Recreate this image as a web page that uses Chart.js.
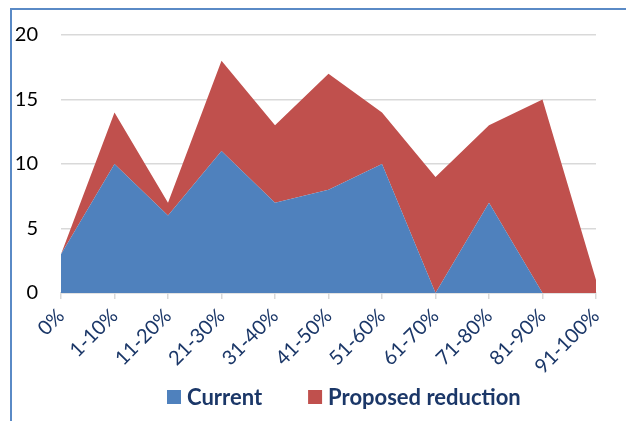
<!DOCTYPE html>
<html>
<head>
<meta charset="utf-8">
<script src="https://cdn.jsdelivr.net/npm/chart.js@4"></script>
<style>
    body { margin: 0; background: #fff; }
    .wrap { position: relative; width: 626px; height: 421px; overflow: hidden; }
    .frame { position: absolute; left: 10px; top: 8px; width: 700px; height: 500px;
             border-left: 2px solid #5a8ac6; border-top: 2px solid #5a8ac6; }
    canvas { position: absolute; left: 0; top: 0; }
</style>
</head>
<body>
<div class="wrap">
    <div class="frame"></div>
    <canvas id="myChart" width="626" height="421"></canvas>
</div>
<script>
const labels = ['0%', '1-10%', '11-20%', '21-30%', '31-40%', '41-50%', '51-60%', '61-70%', '71-80%', '81-90%', '91-100%'];
const current = [3, 10, 6, 11, 7, 8, 10, 0, 7, 0, 0];
const proposedReduction = [0, 4, 1, 7, 6, 9, 4, 9, 6, 15, 1];
const seriesNames = ['Current', 'Proposed reduction'];
const seriesColors = ['#4f81bd', '#c0504d'];

const navy = '#1b3768';

// legend drawn by hand so the gap between items can be wide without a tall legend box
const bottomLegend = {
    id: 'bottomLegend',
    afterDraw(chart) {
        const ctx = chart.ctx;
        ctx.save();
        ctx.font = 'bold 22px Lato';
        ctx.textBaseline = 'middle';
        let x = 167;
        const y = 397;
        chart.data.datasets.forEach(ds => {
            ctx.fillStyle = ds.backgroundColor;
            ctx.fillRect(x, y - 7, 14, 14);
            x += 20;
            ctx.fillStyle = navy;
            ctx.fillText(ds.label, x, y + 1);
            x += ctx.measureText(ds.label).width + 46;
        });
        ctx.restore();
    }
};

const ctx = document.getElementById('myChart').getContext('2d');
const myChart = new Chart(ctx, {
    type: 'line',
    data: {
        labels: labels,
        datasets: [{
            label: seriesNames[0],
            data: current,
            backgroundColor: seriesColors[0],
            borderColor: seriesColors[0],
            borderWidth: 0,
            fill: 'origin',
            pointRadius: 0,
            tension: 0
        }, {
            label: seriesNames[1],
            data: proposedReduction,
            backgroundColor: seriesColors[1],
            borderColor: seriesColors[1],
            borderWidth: 0,
            fill: '-1',
            pointRadius: 0,
            tension: 0
        }]
    },
    options: {
        responsive: false,
        animation: false,
        layout: {
            padding: { top: 31, right: 30, left: 0, bottom: 38 }
        },
        plugins: {
            legend: { display: false },
            tooltip: { enabled: false }
        },
        scales: {
            x: {
                offset: false,
                grid: {
                    drawOnChartArea: false,
                    drawTicks: true,
                    tickLength: 6,
                    color: '#d9d9d9',
                    lineWidth: 1.5
                },
                border: { display: true, color: '#d9d9d9', width: 1.5 },
                ticks: {
                    color: navy,
                    font: { family: 'Lato', size: 20 },
                    minRotation: 45,
                    maxRotation: 45,
                    autoSkip: false,
                    padding: 5
                },
                afterFit: (scale) => { scale.height = 90; }
            },
            y: {
                stacked: true,
                min: 0,
                max: 20,
                grid: {
                    drawTicks: false,
                    color: '#d9d9d9',
                    lineWidth: 1.5
                },
                border: { display: false },
                ticks: {
                    stepSize: 5,
                    color: '#000',
                    font: { family: 'Lato', size: 20 },
                    padding: 23
                },
                afterFit: (scale) => { scale.width = 61; }
            }
        }
    },
    plugins: [bottomLegend]
});
</script>
</body>
</html>
